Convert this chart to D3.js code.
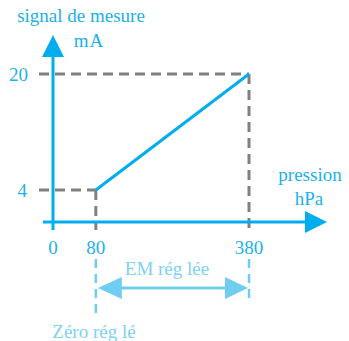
<!DOCTYPE html>
<html><head><meta charset="utf-8">
<script src="https://cdn.jsdelivr.net/npm/d3@7"></script>
<style>body{margin:0;background:#fff}svg{display:block}text{font-family:"Liberation Serif","Times New Roman",serif}</style>
</head><body>
<svg id="c" width="349" height="341"></svg>
<script>
const pressure = [80, 380];
const signal = [4, 20];
const xTicks = [0, 80, 380];
const yTicks = [4, 20];
const yTitle = ["signal de mesure", "mA"];
const xTitle = ["pression", "hPa"];
const spanLabel = "EM rég lée";
const zeroLabel = "Zéro rég lé";

const svg = d3.select("#c");
const x = d3.scaleLinear().domain([0, 380]).range([55, 249]);
const y = d3.scaleLinear().domain([0, 20]).range([219, 74]);
const blue = "#00AEEF", tblue = "#1BB1E9", light = "#6FCDF1", ltext = "#7DD2F2", grey = "#808080";
const axX = 53, axY = 222;

// dashed guides
[0,1].forEach(i => {
  svg.append("line").attr("x1", 39).attr("x2", x(pressure[i])).attr("y1", y(signal[i])).attr("y2", y(signal[i]))
    .attr("stroke", grey).attr("stroke-width", 3).attr("stroke-dasharray", "10,6");
  svg.append("line").attr("x1", x(pressure[i])).attr("x2", x(pressure[i])).attr("y1", y(signal[i])).attr("y2", axY + 8)
    .attr("stroke", grey).attr("stroke-width", 3).attr("stroke-dasharray", "10,6");
});

// axes
svg.append("line").attr("x1", axX).attr("x2", axX).attr("y1", 230).attr("y2", 52).attr("stroke", blue).attr("stroke-width", 3);
svg.append("path").attr("d", `M${axX-11},57 L${axX},35 L${axX+11},57 Z`).attr("fill", blue);
svg.append("line").attr("x1", 43).attr("x2", 310).attr("y1", axY).attr("y2", axY).attr("stroke", blue).attr("stroke-width", 3);
svg.append("path").attr("d", `M305,${axY-11} L327,${axY} L305,${axY+11} Z`).attr("fill", blue);

// data line
svg.append("path").datum(pressure.map((p, i) => [p, signal[i]]))
  .attr("d", d3.line().x(d => x(d[0])).y(d => y(d[1])))
  .attr("stroke", blue).attr("stroke-width", 3).attr("fill", "none");

// tick labels
const fs = 19;
yTicks.forEach(t => svg.append("text").attr("x", t >= 10 ? 28 : 27).attr("y", y(t) + 7).attr("text-anchor", "end")
  .attr("font-size", fs).attr("fill", tblue).text(t));
xTicks.forEach(t => svg.append("text").attr("x", t === 0 ? axX : x(t)).attr("y", 254).attr("text-anchor", "middle")
  .attr("font-size", fs).attr("fill", tblue).text(t));

// titles
svg.append("text").attr("x", 81).attr("y", 22).attr("text-anchor", "middle").attr("font-size", fs).attr("fill", tblue).text(yTitle[0]);
svg.append("text").attr("x", 89).attr("y", 47).attr("text-anchor", "middle").attr("font-size", fs).attr("letter-spacing", 1).attr("fill", tblue).text(yTitle[1]);
svg.append("text").attr("x", 310).attr("y", 181).attr("text-anchor", "middle").attr("font-size", fs).attr("fill", tblue).text(xTitle[0]);
svg.append("text").attr("x", 309).attr("y", 205).attr("text-anchor", "middle").attr("font-size", fs).attr("fill", tblue).text(xTitle[1]);

// lower guides
svg.append("line").attr("x1", x(80)).attr("x2", x(80)).attr("y1", 259).attr("y2", 318).attr("stroke", light).attr("stroke-width", 2.5).attr("stroke-dasharray", "9,6");
svg.append("line").attr("x1", x(380)).attr("x2", x(380)).attr("y1", 259).attr("y2", 303).attr("stroke", light).attr("stroke-width", 2.5).attr("stroke-dasharray", "9,6");

// double arrow
const ay = 288;
svg.append("line").attr("x1", x(80) + 20).attr("x2", x(380) - 20).attr("y1", ay).attr("y2", ay).attr("stroke", light).attr("stroke-width", 3);
svg.append("path").attr("d", `M${x(80)+2},${ay} L${x(80)+26},${ay-11} L${x(80)+26},${ay+11} Z`).attr("fill", light);
svg.append("path").attr("d", `M${x(380)-1},${ay} L${x(380)-24},${ay-11} L${x(380)-24},${ay+11} Z`).attr("fill", light);

svg.append("text").attr("x", 167).attr("y", 275).attr("text-anchor", "middle").attr("font-size", fs).attr("fill", ltext).text(spanLabel);
svg.append("text").attr("x", 94).attr("y", 338).attr("text-anchor", "middle").attr("font-size", fs).attr("fill", ltext).text(zeroLabel);
</script>
</body></html>
